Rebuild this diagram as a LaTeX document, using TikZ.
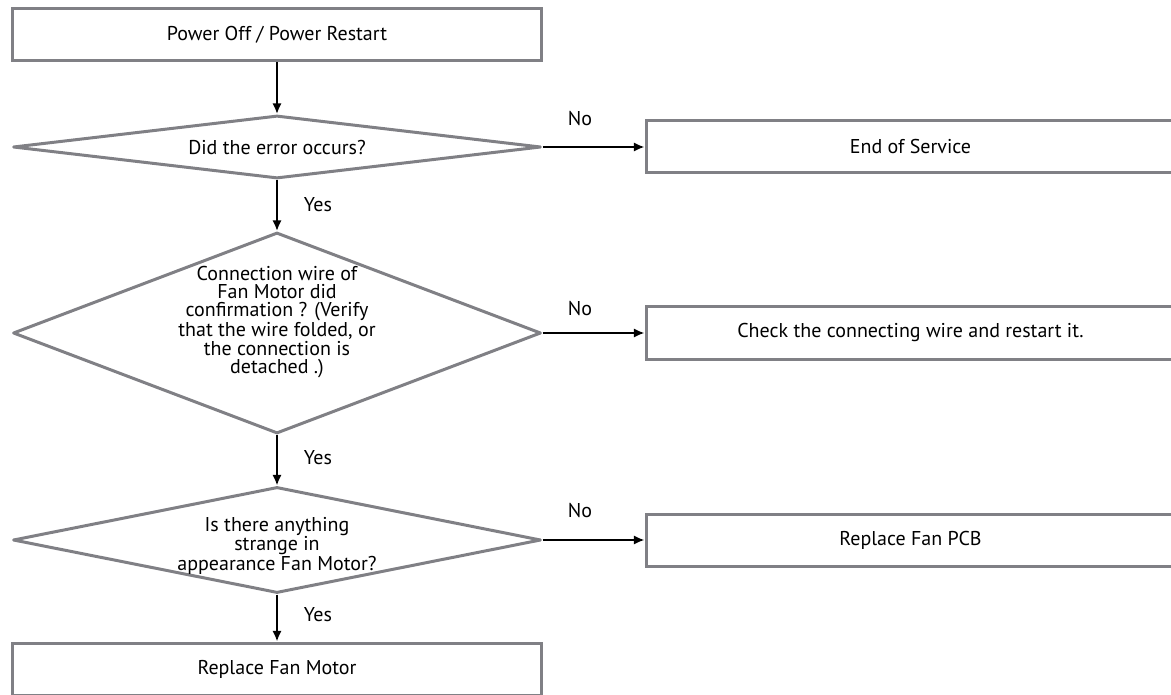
\documentclass[tikz,border=0pt]{standalone}
\usepackage{fontspec}
\setmainfont{PT Sans}
\usetikzlibrary{shapes.geometric,arrows.meta}
\definecolor{framegray}{RGB}{128,128,133}
\begin{document}
\begin{tikzpicture}[x = 0.75pt, y = -0.75pt,
    every node/.style = {font = \fontsize{15}{13.8}\selectfont},
    stepbox/.style = {draw = framegray, line width = 2.25pt, minimum width = 396.75pt, minimum height = 39pt, inner sep = 0pt},
    decision/.style = {diamond, draw = framegray, line width = 2.25pt, line join = round, minimum width = 396pt, inner sep = 0pt},
    question/.style = {align = center, inner sep = 0pt},
    flow/.style = {-{Latex[length = 8pt, width = 7pt]}, line width = 1.5pt}]
    \clip (0,0) rectangle (1171,695);

    % main column
    \node (restart) at (277,35)  [stepbox] {Power Off / Power Restart};
    \node (occurs)  at (277,147) [decision, aspect = 8.4, minimum height = 47.25pt] {};
    \node (wire)    at (277,333) [decision, aspect = 2.6, minimum height = 150.75pt] {};
    \node (strange) at (277,540) [decision, aspect = 5, minimum height = 79.5pt] {};
    \node (motor)   at (277,669) [stepbox] {Replace Fan Motor};

    \node (occurs text)  at (277,148) [question] {Did the error occurs?};
    \node (wire text)    at (277,322) [question] {Connection wire of\\Fan Motor did\\confirmation ? (Verify\\that the wire folded, or\\the connection is\\detached .)};
    \node (strange text) at (277,546) [question] {Is there anything\\strange in\\appearance Fan Motor?};

    % right column
    \node (service) at (910.5,147) [stepbox] {End of Service};
    \node (check)   at (910.5,333) [stepbox] {Check the connecting wire and restart it.};
    \node (pcb)     at (910.5,540) [stepbox] {Replace Fan PCB};

    % answers
    \node (no1)  at (580,119) {No};
    \node (no2)  at (580,309) {No};
    \node (no3)  at (580,511) {No};
    \node (yes1) at (318,205) {Yes};
    \node (yes2) at (318,458) {Yes};
    \node (yes3) at (318,615) {Yes};

    \draw[flow] (restart) -- (occurs);
    \draw[flow] (occurs) -- (wire);
    \draw[flow] (wire) -- (strange);
    \draw[flow] (strange) -- (motor);
    \draw[flow] (occurs) -- (service);
    \draw[flow] (wire) -- (check);
    \draw[flow] (strange) -- (pcb);
\end{tikzpicture}
\end{document}
